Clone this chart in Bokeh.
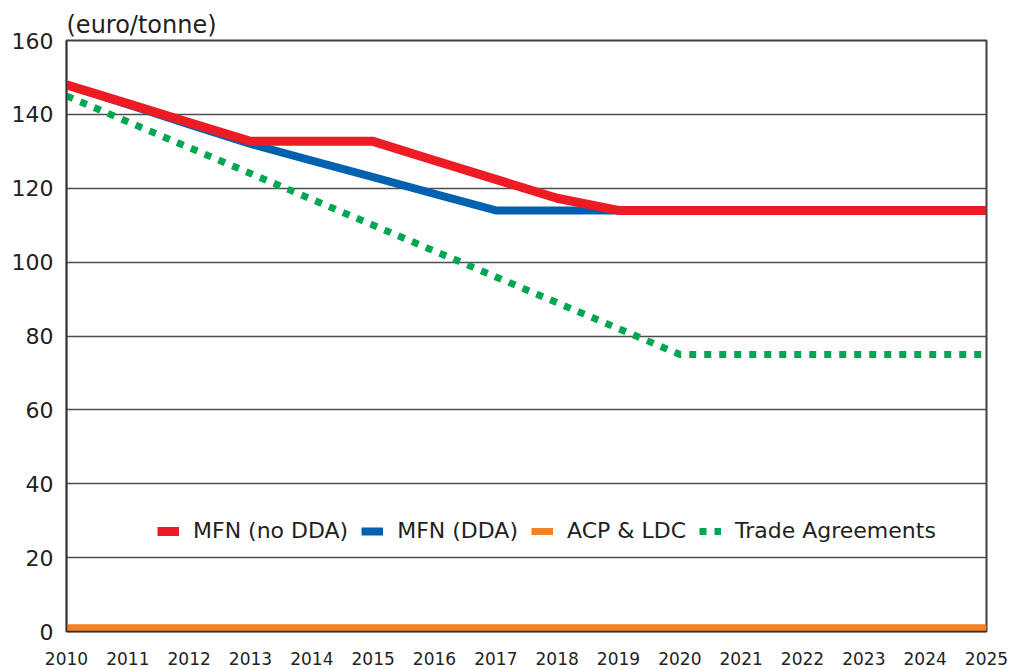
from bokeh.plotting import figure
from bokeh.models import Range1d, FixedTicker, Legend, LegendItem
from bokeh.embed import file_html
from bokeh.resources import INLINE

years = list(range(2010, 2026))
mfn_no_dda = [148, 142.9, 137.8, 132.7, 132.7, 132.7, 127.5, 122.4, 117.3, 114, 114, 114, 114, 114, 114, 114]
mfn_dda = [148, 142.7, 137.3, 132, 127.5, 123, 118.5, 114, 114, 114, 114, 114, 114, 114, 114, 114]
acp_ldc = [1] * 16
trade_agreements = [145, 138, 131, 124, 117, 110, 103, 96, 89, 82, 75, 75, 75, 75, 75, 75]
y_ticks = [0, 20, 40, 60, 80, 100, 120, 140, 160]
unit_label = "(euro/tonne)"

FONT = "DejaVu Sans"

p = figure(width=1010, height=667, output_backend="svg", toolbar_location=None,
           x_range=Range1d(2010, 2025), y_range=Range1d(0, 160),
           min_border_left=66, min_border_right=24, min_border_top=40, min_border_bottom=29)

p.title.text = unit_label
p.title.align = "left"
p.title.text_font = FONT
p.title.text_font_size = "24px"
p.title.text_font_style = "normal"
p.title.text_color = "#231f20"
p.title.standoff = 3
p.title.offset = 0

p.background_fill_color = "white"
p.border_fill_color = "white"
p.outline_line_color = "#404040"
p.outline_line_width = 2

p.xgrid.grid_line_color = None
p.ygrid.grid_line_color = "#4d4d4d"
p.ygrid.grid_line_width = 1.5

p.yaxis.ticker = FixedTicker(ticks=y_ticks)
p.xaxis.ticker = FixedTicker(ticks=years)
for ax in (p.xaxis, p.yaxis):
    ax.major_tick_line_color = None
    ax.minor_tick_line_color = None
    ax.axis_line_color = "#303030"
    ax.axis_line_width = 1.5
    ax.major_label_text_font = FONT
    ax.major_label_text_color = "#231f20"
p.yaxis.major_tick_out = 0
p.yaxis.major_label_text_font_size = "22px"
p.yaxis.major_label_standoff = 13
p.xaxis.major_label_text_font_size = "17px"
p.xaxis.major_label_standoff = 14

r_orange = p.line(years, acp_ldc, line_color="#F58220", line_width=7)
r_blue = p.line(years, mfn_dda, line_color="#0061B0", line_width=8)
r_red = p.line(years, mfn_no_dda, line_color="#ED1C24", line_width=9)
r_green = p.line(years, trade_agreements, line_color="#00A651", line_width=7,
                 line_dash="7 8", line_cap="butt")

legend = Legend(items=[
    LegendItem(label="MFN (no DDA)", renderers=[r_red]),
    LegendItem(label="MFN (DDA)", renderers=[r_blue]),
    LegendItem(label="ACP & LDC", renderers=[r_orange]),
    LegendItem(label="Trade Agreements", renderers=[r_green]),
], orientation="horizontal", location=(91, 88))
legend.border_line_color = None
legend.background_fill_alpha = 0
legend.padding = 0
legend.margin = 0
legend.spacing = 13
legend.glyph_width = 22
legend.label_standoff = 14
legend.label_text_font = FONT
legend.label_text_font_size = "22px"
legend.label_text_color = "#231f20"
p.add_layout(legend, "center")

open("out.html", "w").write(file_html(p, INLINE))
